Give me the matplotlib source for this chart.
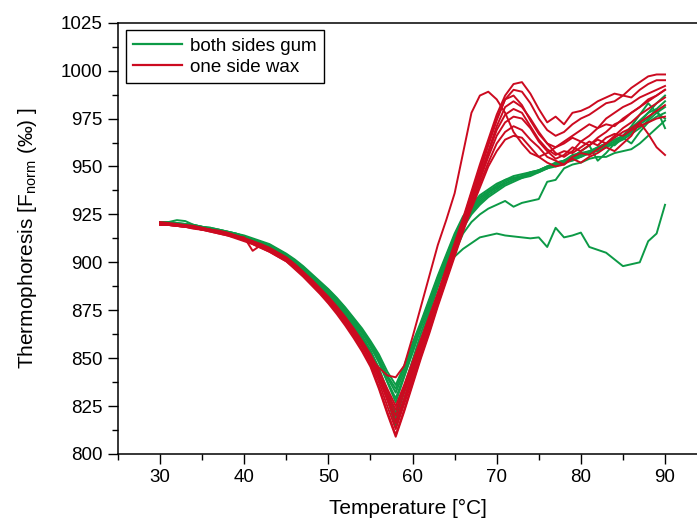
import matplotlib
matplotlib.use("Agg")
import matplotlib.pyplot as plt
from matplotlib.lines import Line2D

plt.rcParams['font.family'] = ['Liberation Sans', 'DejaVu Sans']
plt.rcParams['mathtext.fontset'] = 'custom'
plt.rcParams['mathtext.rm'] = 'Liberation Sans'

# temperature axis, 1 degree steps
temperature = list(range(30, 91))

# both sides gum (green)
gum_1 = [921, 921, 920.5, 920, 919.5, 918.5, 918, 917, 916, 915, 914, 912.5, 911, 909.5, 907, 904.5,
         901.5, 898, 894, 890, 886, 881.5, 876.5, 871, 865.5, 859, 852, 843,
         836, 846, 858, 869, 881, 893, 904, 915, 924, 930, 935, 938, 941, 943, 945,
         946, 947, 948, 950, 951, 953, 955, 956, 958, 959, 961, 963, 966, 969, 973, 978, 983, 987]
gum_2 = [920.5, 921, 922, 921.5, 919.5, 918.5, 917.5, 917, 916, 915, 913.5, 912, 910.5, 909, 906.5, 904,
         901, 897.5, 893.5, 889.5, 885.5, 881, 876, 870.5, 864.5, 858, 850.5, 841,
         834, 845, 857, 868, 880, 892, 903, 914, 922, 929, 934, 937, 940, 943, 944,
         945, 946, 947, 949, 952, 953, 954, 956, 957, 960, 962, 961, 965, 968, 972, 975, 980, 984]
gum_3 = [921, 920.5, 920, 920, 919, 918.5, 917.5, 916.5, 915.5, 914.5, 913, 912, 910, 908.5, 906, 903.5,
         900.5, 897, 893, 889, 885, 880.5, 875, 869.5, 863.5, 857, 849.5, 840,
         832, 843, 855, 867, 879, 891, 902, 913, 921, 928, 933, 937, 939, 942, 944,
         945, 947, 948, 950, 951, 952, 954, 955, 957, 958, 960, 962, 964, 967, 970, 974, 978, 981]
gum_4 = [920, 920.5, 920, 919.5, 919, 918, 917.5, 916.5, 915.5, 914.5, 913, 911.5, 910, 908.5, 906, 903.5,
         900, 896.5, 892.5, 888.5, 884.5, 879.5, 874.5, 869, 863, 856, 848, 838,
         829, 841, 853, 866, 878, 890, 901, 912, 920, 927, 932, 936, 939, 941, 943,
         944, 946, 948, 950, 952, 953, 955, 958, 961, 953, 957, 962, 965, 962, 968, 973, 976, 978]
gum_5 = [920.5, 920, 920, 919.5, 918.5, 918, 917, 916.5, 915.5, 914.5, 913, 911.5, 909.5, 908, 905.5, 903,
         899.5, 896, 892, 888, 883.5, 878.5, 873, 867.5, 861, 854, 845, 833,
         821, 835, 849, 863, 876, 889, 900, 911, 919, 926, 931, 935, 938, 941, 943,
         945, 946, 948, 949, 951, 953, 956, 957, 958, 960, 962, 964, 966, 971, 977, 983, 978, 975]
gum_6 = [920, 920, 919.5, 919, 918.5, 917.5, 917, 916, 915, 914, 912.5, 911, 909.5, 908, 905.5, 903,
         899.5, 895.5, 891.5, 887.5, 883, 878, 872.5, 866.5, 860, 852.5, 843, 831,
         818, 832, 846, 860, 874, 887, 899, 910, 918, 925, 930, 934, 937, 940, 942,
         944, 945, 947, 949, 950, 952, 953, 955, 957, 959, 961, 963, 966, 970, 974, 978, 980, 970]
gum_7 = [921, 921, 920.5, 920, 919.5, 918.5, 918, 917, 916, 915, 913.5, 912, 910.5, 909, 906.5, 904,
         900.5, 897, 893, 889, 884.5, 879.5, 874, 868, 861.5, 854, 843, 829,
         814, 828, 843, 857, 871, 884, 895, 905, 915, 921, 925, 928, 930, 932, 929,
         931, 932, 933, 942, 943, 949, 951, 952, 954, 955, 955, 957, 958, 959, 962, 966, 970, 974]
gum_8 = [920.5, 920.5, 920, 919.5, 919, 918, 917.5, 916.5, 915.5, 914.5, 913, 911.5, 910, 908.5, 906, 903.5,
         900.5, 897, 893, 889, 885, 880, 875, 869.5, 863.5, 856.5, 848, 837.5,
         827, 840, 853, 866, 878, 889, 898, 903, 907, 910, 913, 914, 915, 914, 913.5,
         913, 912.5, 913, 908, 918, 913, 914, 915.5, 908, 906.5, 905, 901.5, 898, 899, 900, 911, 915, 930]

# one side wax (red)
wax_1 = [920, 920, 919.5, 919, 918.5, 917.5, 917, 916, 915, 914, 912.5, 911, 909, 907.5, 905, 902.5,
         899, 895, 890.5, 886, 881, 875.5, 869.5, 863, 856.5, 850, 845, 841,
         840, 846, 861, 877, 893, 909, 922, 936, 957, 978, 987, 989, 985, 978, 968,
         962, 957, 955, 957, 960, 962, 965, 963, 966, 970, 972, 971, 975, 978, 981, 984, 987, 990]
wax_2 = [921, 920.5, 920, 919.5, 919, 918, 917, 916.5, 915.5, 914, 912.5, 911, 909.5, 907.5, 905, 902.5,
         899, 895, 891, 886.5, 882, 877, 871.5, 865.5, 859, 852, 843.5, 834,
         825, 836, 848, 860, 872, 884, 897, 910, 923, 937, 951, 964, 977, 987, 993,
         994, 988, 980, 973, 976, 972, 978, 979, 981, 984, 986, 988, 987, 991, 994, 997, 998, 998]
wax_3 = [920.5, 920, 919.5, 919, 918.5, 918, 917, 916, 915, 913.5, 912, 910.5, 908.5, 907, 904.5, 902,
         898.5, 894.5, 890.5, 886, 881.5, 876.5, 871, 865, 858.5, 851, 842, 832,
         823, 834, 846, 858, 870, 883, 896, 909, 922, 936, 949, 962, 975, 985, 990,
         989, 983, 975, 969, 966, 968, 972, 975, 977, 980, 983, 984, 987, 986, 990, 993, 995, 995]
wax_4 = [920, 919.5, 919.5, 919, 918.5, 917.5, 916.5, 916, 915, 913.5, 913, 906, 909, 906.5, 904, 901.5,
         898, 894, 890, 885.5, 881, 876, 870.5, 864.5, 858, 850.5, 841, 830.5,
         820, 832, 844, 857, 869, 882, 895, 908, 921, 934, 947, 961, 974, 985, 987,
         982, 974, 967, 962, 960, 963, 966, 969, 972, 970, 975, 978, 981, 983, 986, 988, 990, 992]
wax_5 = [919.5, 919.5, 919, 918.5, 918, 917, 916.5, 915.5, 914.5, 913.5, 912, 910.5, 908.5, 906.5, 904, 901.5,
         898, 894, 889.5, 885, 880, 875, 869.5, 863.5, 857, 849.5, 839.5, 828,
         817, 829, 842, 855, 868, 881, 894, 907, 920, 932, 945, 958, 971, 981, 984,
         981, 975, 968, 962, 957, 955, 958, 963, 961, 965, 968, 972, 974, 978, 981, 985, 987, 990]
wax_6 = [920, 919.5, 919, 918.5, 918, 917, 916.5, 915.5, 914.5, 913, 911.5, 910, 908, 906, 903.5, 901,
         897.5, 893.5, 889, 884.5, 879.5, 874.5, 869, 862.5, 856, 848, 837.5, 825,
         813, 826, 839, 852, 866, 879, 892, 905, 918, 931, 943, 955, 966, 973, 976,
         975, 970, 963, 958, 954, 956, 960, 958, 961, 964, 962, 966, 970, 973, 977, 980, 983, 986]
wax_7 = [919.5, 919.5, 919, 918.5, 917.5, 917, 916, 915, 914, 913, 911.5, 909.5, 907.5, 905.5, 903, 900.5,
         897, 893, 888.5, 884, 879, 874, 868, 861.5, 854.5, 846.5, 835, 822,
         810, 823, 837, 851, 864, 878, 891, 904, 917, 929, 941, 952, 962, 968, 971,
         969, 964, 960, 955, 953, 951, 955, 957, 956, 959, 962, 965, 968, 970, 973, 976, 979, 982]
wax_8 = [920, 919.5, 919, 918.5, 918, 917, 916, 915, 914, 912.5, 911, 909.5, 907.5, 905.5, 903, 900.5,
         896.5, 892.5, 888, 883.5, 878.5, 873, 867, 860.5, 853.5, 845.5, 834, 821,
         809, 822, 836, 850, 863, 877, 890, 903, 916, 928, 939, 950, 958, 964, 966,
         965, 960, 955, 952, 950, 951, 954, 952, 955, 957, 960, 958, 962, 966, 973, 967, 960, 956]
wax_9 = [920.5, 920, 919.5, 919, 918.5, 917.5, 917, 916, 915, 913.5, 912, 910.5, 908.5, 907, 904.5, 902,
         898.5, 894.5, 890, 885.5, 880.5, 875.5, 870, 864, 857.5, 850, 840.5, 829,
         816, 828, 841, 854, 867, 880, 893, 906, 919, 932, 944, 957, 969, 977, 980,
         978, 971, 964, 959, 956, 958, 957, 960, 963, 961, 965, 967, 966, 969, 971, 973, 975, 976]

gum_runs = [gum_1, gum_2, gum_3, gum_4, gum_5, gum_6, gum_7, gum_8]
wax_runs = [wax_1, wax_2, wax_3, wax_4, wax_5, wax_6, wax_7, wax_8, wax_9]

green = '#0c9a46'
red = '#cc0a20'

fig = plt.figure(figsize=(6.97, 5.22), dpi=100)
ax = fig.add_axes([0.1693, 0.1303, 0.8307, 0.8262])

for run in gum_runs:
    ax.plot(temperature, run, color=green, lw=1.4)
for run in wax_runs:
    ax.plot(temperature, run, color=red, lw=1.4)

ax.set_xlim(25, 93.8)
ax.set_ylim(800, 1025)
ax.set_xticks(range(30, 91, 10))
ax.set_xticks(range(25, 95, 5), minor=True)
ax.set_yticks(range(800, 1026, 25))
ax.set_yticks([800 + 12.5 * i for i in range(19)], minor=True)
ax.tick_params(which='major', direction='out', length=7, width=1.0, labelsize=13.5, pad=4)
ax.tick_params(which='minor', direction='out', length=4, width=1.0)
ax.spines['right'].set_visible(False)
for side in ['left', 'bottom', 'top']:
    ax.spines[side].set_linewidth(1.1)

ax.set_xlabel('Temperature [°C]', fontsize=15, labelpad=9)
ax.set_ylabel(r'Thermophoresis [F$_{\mathrm{norm}}$ (‰) ]', fontsize=15, labelpad=16)

handles = [Line2D([], [], color=green, lw=1.6), Line2D([], [], color=red, lw=1.6)]
leg = ax.legend(handles, ['both sides gum', 'one side wax'], loc='upper left',
                fontsize=13.5, frameon=True, fancybox=False, edgecolor='black',
                framealpha=1, borderaxespad=0.4, borderpad=0.4, handlelength=2.6,
                handletextpad=0.45, labelspacing=0.2)
leg.get_frame().set_linewidth(1.0)

fig.savefig('out.png', dpi=100)
